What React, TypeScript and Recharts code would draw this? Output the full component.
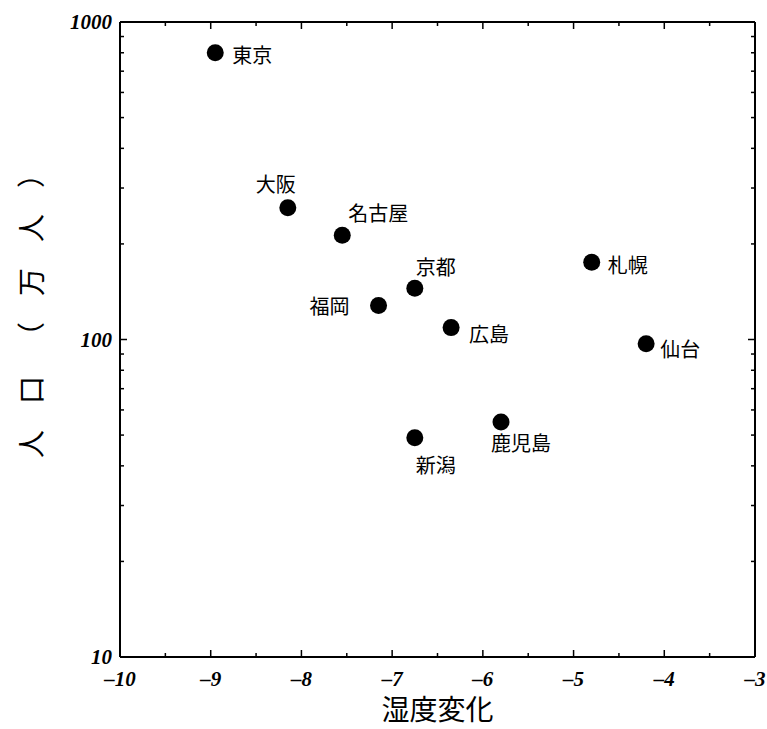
import { ScatterChart, Scatter, XAxis, YAxis, Label } from "recharts";

// 都市ごとの湿度変化と人口（万人）
const cities = ["東京", "大阪", "名古屋", "京都", "福岡", "広島", "札幌", "仙台", "鹿児島", "新潟"];
const humidityChange = [-8.95, -8.15, -7.55, -6.75, -7.15, -6.35, -4.8, -4.2, -5.8, -6.75];
const population = [800, 260, 213, 145, 128, 109, 175, 97, 55, 49];

const xTicks = [-10, -9.5, -9, -8.5, -8, -7.5, -7, -6.5, -6, -5.5, -5, -4.5, -4, -3.5, -3];
const yTicks = [10, 20, 30, 40, 50, 60, 70, 80, 90, 100, 200, 300, 400, 500, 600, 700, 800, 900, 1000];
const yLabeled = [10, 100, 1000];

// where each city name sits next to its dot
const labelPlacement: Record<string, { dx: number; dy: number; anchor: "start" | "middle" | "end" }> = {
  東京: { dx: 17, dy: 2, anchor: "start" },
  大阪: { dx: -12, dy: -24, anchor: "middle" },
  名古屋: { dx: 6, dy: -23, anchor: "start" },
  京都: { dx: 1, dy: -22, anchor: "start" },
  福岡: { dx: -29, dy: 0, anchor: "end" },
  広島: { dx: 18, dy: 6, anchor: "start" },
  札幌: { dx: 16, dy: 2, anchor: "start" },
  仙台: { dx: 14, dy: 5, anchor: "start" },
  鹿児島: { dx: -10, dy: 21, anchor: "start" },
  新潟: { dx: 1, dy: 27, anchor: "start" },
};

const data = cities.map((name, i) => ({ name, x: humidityChange[i], y: population[i] }));

const serif = "'Liberation Serif', 'DejaVu Serif', serif";
const jp = "'Noto Sans CJK JP', 'Noto Sans', sans-serif";

const fmtX = (v: number) => (v < 0 ? "\u2013" + Math.abs(v) : String(v));

function XTick(props: any) {
  const { x, y, payload, side } = props;
  const v = payload.value;
  const major = Number.isInteger(v);
  const len = major ? 7 : 4;
  const dir = side === "bottom" ? -1 : 1;
  return (
    <g>
      <line x1={x} x2={x} y1={y} y2={y + dir * len} stroke="#000" strokeWidth={1.5} />
      {side === "bottom" && major && (
        <text x={x} y={y + 22} textAnchor="middle" dominantBaseline="central"
          fontFamily={serif} fontWeight="bold" fontStyle="italic" fontSize={21} fill="#000">
          {fmtX(v)}
        </text>
      )}
    </g>
  );
}

function YTick(props: any) {
  const { x, y, payload, side } = props;
  const v = payload.value;
  const major = yLabeled.includes(v);
  const len = major ? 7 : 4;
  const dir = side === "left" ? 1 : -1;
  return (
    <g>
      <line x1={x} x2={x + dir * len} y1={y} y2={y} stroke="#000" strokeWidth={1.5} />
      {side === "left" && major && (
        <text x={x - 8} y={y} textAnchor="end" dominantBaseline="central"
          fontFamily={serif} fontWeight="bold" fontStyle="italic" fontSize={21} fill="#000">
          {v}
        </text>
      )}
    </g>
  );
}

function CityDot(props: any) {
  const { cx, cy, payload } = props;
  const p = labelPlacement[payload.name];
  return (
    <g>
      <circle cx={cx} cy={cy} r={8.5} fill="#000" />
      <text x={cx + p.dx} y={cy + p.dy} textAnchor={p.anchor} dominantBaseline="central"
        fontFamily={jp} fontSize={20} fill="#000">
        {payload.name}
      </text>
    </g>
  );
}

function YTitle(props: any) {
  const { viewBox } = props;
  const cx = 30;
  const cy = viewBox.y + 436;
  return (
    <text x={cx} y={cy} transform={`rotate(-90 ${cx} ${cy})`} textAnchor="start" dominantBaseline="central"
      fontFamily={jp} fontSize={28} letterSpacing={26} fill="#000">
      人口（万人）
    </text>
  );
}

export default function App() {
  return (
    <div style={{ position: "absolute", left: 0, top: 0, width: 767, height: 729, overflow: "hidden", background: "#fff" }}>
      <ScatterChart width={767} height={729} margin={{ top: 21, right: 11, left: 8, bottom: 8 }}>
        <XAxis xAxisId="b" type="number" dataKey="x" domain={[-10, -3]} ticks={xTicks} allowDataOverflow
          height={64} tickSize={0} tickMargin={0} tickLine={false} interval={0}
          axisLine={{ stroke: "#000", strokeWidth: 2 }} tick={<XTick side="bottom" />}>
          <Label content={(p: any) => (
            <text x={p.viewBox.x + p.viewBox.width / 2} y={p.viewBox.y + 51} textAnchor="middle"
              dominantBaseline="central" fontFamily={jp} fontSize={28} fill="#000">湿度変化</text>
          )} />
        </XAxis>
        <XAxis xAxisId="t" orientation="top" type="number" dataKey="x" domain={[-10, -3]} ticks={xTicks} allowDataOverflow
          height={1} tickSize={0} tickMargin={0} tickLine={false} interval={0}
          axisLine={{ stroke: "#000", strokeWidth: 2 }} tick={<XTick side="top" />} />
        <YAxis yAxisId="l" type="number" dataKey="y" scale="log" domain={[10, 1000]} ticks={yTicks} allowDataOverflow
          width={112} tickSize={0} tickMargin={0} tickLine={false} interval={0}
          axisLine={{ stroke: "#000", strokeWidth: 2 }} tick={<YTick side="left" />}>
          <Label content={<YTitle />} />
        </YAxis>
        <YAxis yAxisId="r" orientation="right" type="number" dataKey="y" scale="log" domain={[10, 1000]} ticks={yTicks} allowDataOverflow
          width={1} tickSize={0} tickMargin={0} tickLine={false} interval={0}
          axisLine={{ stroke: "#000", strokeWidth: 2 }} tick={<YTick side="right" />} />
        <Scatter xAxisId="b" yAxisId="l" data={data} shape={<CityDot />} isAnimationActive={false} />
        {/* invisible series so the top/right frame axes get drawn */}
        <Scatter xAxisId="t" yAxisId="r" data={data} shape={() => <g />} isAnimationActive={false} />
      </ScatterChart>
    </div>
  );
}
